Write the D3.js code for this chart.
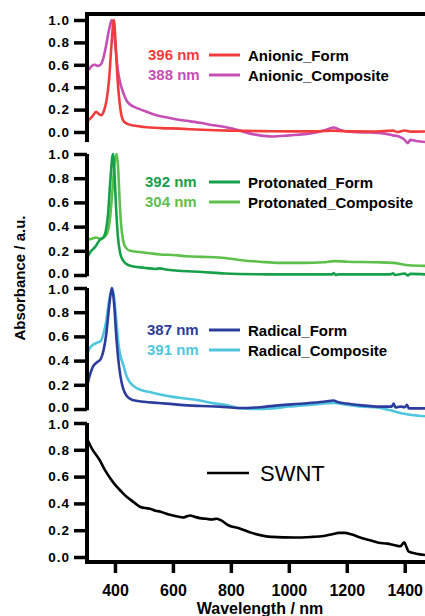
<!DOCTYPE html>
<html>
<head>
<meta charset="utf-8">
<script src="https://cdn.jsdelivr.net/npm/d3@7"></script>
<style>
  html, body { margin: 0; padding: 0; background: #fff; }
  svg { display: block; }
  text { font-family: "Liberation Sans", Arial, sans-serif; }
</style>
</head>
<body>
<svg id="chart" width="425" height="616"></svg>
<script>
// ---------- DATA ----------
const wavelengthTicks = [400, 600, 800, 1000, 1200, 1400];
const absTicks = [0, 0.2, 0.4, 0.6, 0.8, 1.0];

const anionicForm = [[300,0.09],[310,0.11],[322,0.14],[335,0.18],[345,0.16],[352,0.15],[362,0.19],[372,0.3],[380,0.48],[388,0.78],[396,1.0],[401,0.85],[406,0.6],[411,0.4],[417,0.24],[424,0.13],[432,0.09],[445,0.07],[470,0.055],[500,0.045],[560,0.035],[620,0.03],[700,0.02],[800,0.012],[900,0.008],[1000,0.006],[1100,0.006],[1150,0.012],[1200,0.006],[1300,0.005],[1360,0.012],[1375,0.0],[1400,0.014],[1420,0.003],[1470,0.005]];
const anionicComposite = [[300,0.54],[310,0.56],[320,0.59],[330,0.6],[340,0.59],[350,0.6],[360,0.66],[370,0.78],[380,0.92],[389,1.0],[395,0.93],[402,0.75],[410,0.55],[420,0.42],[430,0.34],[440,0.28],[455,0.24],[470,0.22],[490,0.2],[520,0.17],[550,0.145],[580,0.13],[620,0.11],[660,0.095],[700,0.08],[740,0.06],[780,0.045],[820,0.02],[860,-0.01],[900,-0.03],[940,-0.04],[1000,-0.03],[1080,-0.01],[1130,0.02],[1155,0.04],[1175,0.02],[1220,0.0],[1280,-0.005],[1320,-0.01],[1360,-0.03],[1380,-0.04],[1400,-0.07],[1410,-0.1],[1420,-0.07],[1440,-0.08],[1470,-0.09]];

const protonatedForm = [[300,0.12],[315,0.19],[331,0.23],[348,0.29],[360,0.31],[368,0.36],[376,0.5],[384,0.78],[393,1.0],[398,0.85],[404,0.55],[410,0.32],[418,0.18],[428,0.12],[440,0.09],[455,0.075],[500,0.06],[540,0.05],[555,0.055],[575,0.045],[620,0.035],[700,0.025],[780,0.012],[900,0.006],[1000,0.005],[1150,0.005],[1155,0.016],[1162,0.0],[1170,0.005],[1350,0.005],[1360,0.014],[1366,0.0],[1400,0.013],[1410,-0.004],[1420,0.009],[1470,0.005]];
const protonatedComposite = [[300,0.29],[320,0.3],[335,0.31],[348,0.3],[360,0.31],[372,0.34],[382,0.45],[392,0.72],[399,0.93],[406,1.0],[411,0.88],[416,0.62],[421,0.42],[428,0.29],[436,0.23],[452,0.2],[486,0.19],[520,0.18],[555,0.17],[600,0.165],[650,0.155],[700,0.15],[760,0.145],[845,0.12],[900,0.11],[966,0.1],[1050,0.1],[1120,0.105],[1155,0.115],[1200,0.11],[1300,0.105],[1360,0.1],[1400,0.085],[1414,0.08],[1470,0.075]];

const radicalForm = [[300,0.15],[312,0.27],[324,0.35],[340,0.39],[350,0.41],[360,0.48],[370,0.62],[380,0.85],[389,1.0],[397,0.87],[404,0.62],[411,0.42],[419,0.27],[428,0.17],[440,0.11],[460,0.075],[500,0.06],[550,0.05],[600,0.04],[650,0.03],[700,0.025],[760,0.02],[828,0.008],[900,0.015],[966,0.03],[1050,0.045],[1120,0.06],[1155,0.07],[1165,0.06],[1200,0.045],[1252,0.03],[1320,0.02],[1355,0.02],[1362,0.045],[1368,0.012],[1385,0.02],[1400,0.015],[1408,0.035],[1414,0.005],[1470,0.005]];
const radicalComposite = [[300,0.42],[312,0.5],[324,0.53],[340,0.55],[350,0.56],[360,0.62],[370,0.73],[380,0.9],[391,1.0],[398,0.9],[405,0.72],[413,0.52],[421,0.42],[428,0.37],[440,0.27],[452,0.22],[470,0.18],[486,0.16],[520,0.14],[555,0.12],[600,0.1],[650,0.085],[693,0.07],[734,0.05],[780,0.035],[828,0.006],[880,0.0],[941,0.005],[1000,0.02],[1080,0.035],[1155,0.05],[1200,0.035],[1252,0.02],[1310,0.01],[1366,-0.02],[1400,-0.04],[1424,-0.05],[1470,-0.06]];

const swnt = [[300,0.9],[320,0.81],[348,0.72],[365,0.65],[383,0.59],[400,0.54],[417,0.5],[435,0.46],[452,0.43],[470,0.4],[486,0.375],[505,0.365],[521,0.36],[540,0.345],[555,0.34],[575,0.325],[600,0.31],[620,0.3],[634,0.295],[650,0.305],[659,0.31],[675,0.3],[693,0.29],[715,0.285],[734,0.28],[750,0.285],[765,0.275],[793,0.235],[828,0.215],[872,0.18],[941,0.15],[1021,0.145],[1080,0.15],[1114,0.155],[1150,0.17],[1172,0.18],[1193,0.18],[1215,0.17],[1241,0.15],[1280,0.125],[1310,0.107],[1340,0.1],[1362,0.09],[1385,0.08],[1398,0.11],[1405,0.08],[1414,0.04],[1440,0.025],[1470,0.015]];

const seriesNames = ["Anionic_Form","Anionic_Composite","Protonated_Form","Protonated_Composite","Radical_Form","Radical_Composite","SWNT"];
const peakLabels = ["396 nm","388 nm","392 nm","304 nm","387 nm","391 nm"];
const seriesColors = ["#f23c3c","#c64fb5","#17a04a","#5dc04b","#2d3d9e","#4fc6de","#000000"];

// ---------- LAYOUT ----------
const svg = d3.select("#chart");
const axisX = 87;
const x = d3.scaleLinear().domain([300, 1470]).range([86, 425]);

const panels = [
  { y0: 132, y1: 20,  lo: -0.09, hi: 1.055, data: [anionicComposite, anionicForm], idx: [1, 0],
    legend: { nmX: 148, base: [60, 80] }, nudgeTop: 0, nudgeBottom: 0 },
  { y0: 275, y1: 154, lo: -0.01, hi: 1.0, data: [protonatedComposite, protonatedForm], idx: [3, 2],
    legend: { nmX: 145, base: [187, 207] }, nudgeTop: 0, nudgeBottom: -1.5 },
  { y0: 409, y1: 288, lo: -0.01, hi: 1.0, data: [radicalComposite, radicalForm], idx: [5, 4],
    legend: { nmX: 147, base: [335, 355] }, nudgeTop: 1.5, nudgeBottom: -1.5 },
  { y0: 557, y1: 423, lo: -0.037, hi: 1.0, data: [swnt], idx: [6], legend: null,
    nudgeTop: 1.5, nudgeBottom: 0 }
];

svg.append("defs").append("clipPath").attr("id", "clipX")
  .append("rect").attr("x", 88).attr("y", 0).attr("width", 340).attr("height", 616);

panels.forEach(p => {
  const y = d3.scaleLinear().domain([0, 1]).range([p.y0, p.y1]);
  const line = d3.line().x(d => x(d[0])).y(d => y(d[1])).curve(d3.curveMonotoneX);

  // curves
  const g = svg.append("g").attr("clip-path", "url(#clipX)");
  p.data.forEach((arr, k) => {
    g.append("path").datum(arr)
      .attr("d", line)
      .attr("fill", "none")
      .attr("stroke", seriesColors[p.idx[k]])
      .attr("stroke-width", 2.6)
      .attr("stroke-linejoin", "round");
  });

  // y axis
  const ax = svg.append("g").attr("transform", `translate(${axisX},0)`)
    .call(d3.axisLeft(y).tickValues(absTicks).tickFormat(d3.format(".1f"))
      .tickSize(13).tickSizeOuter(0).tickPadding(4));
  ax.select(".domain").remove();
  ax.selectAll(".tick line").attr("stroke", "#000").attr("stroke-width", 3.5);
  ax.selectAll(".tick text").attr("fill", "#000")
    .style("font-size", "13.5px").style("font-weight", "bold")
    .style("letter-spacing", "1px")
    .style("font-family", "'Liberation Sans', Arial, sans-serif")
    .attr("transform", d => d === 1 ? `translate(0,${p.nudgeTop})` : (d === 0 ? `translate(0,${p.nudgeBottom})` : null));
  svg.append("line")
    .attr("x1", axisX).attr("x2", axisX)
    .attr("y1", y(p.hi)).attr("y2", y(p.lo))
    .attr("stroke", "#000").attr("stroke-width", 4);

  // legends
  if (p.legend) {
    p.idx.slice().reverse().forEach((si, k) => {
      const base = p.legend.base[k];
      svg.append("text").attr("x", p.legend.nmX).attr("y", base)
        .attr("fill", seriesColors[si])
        .style("font-size", "15px").style("font-weight", "bold")
        .text(peakLabels[si]);
      svg.append("line").attr("x1", 209).attr("x2", 240)
        .attr("y1", base - 5).attr("y2", base - 5)
        .attr("stroke", seriesColors[si]).attr("stroke-width", 3);
      svg.append("text").attr("x", 248).attr("y", base + 1)
        .attr("fill", "#000")
        .style("font-size", "15px").style("font-weight", "bold")
        .text(seriesNames[si]);
    });
  }
});

// SWNT legend
svg.append("line").attr("x1", 207).attr("x2", 249).attr("y1", 473).attr("y2", 473)
  .attr("stroke", seriesColors[6]).attr("stroke-width", 2.6);
svg.append("text").attr("x", 260).attr("y", 481).attr("fill", "#000")
  .style("font-size", "22px").text(seriesNames[6]);

// top border
svg.append("line").attr("x1", 85).attr("x2", 425).attr("y1", 14).attr("y2", 14)
  .attr("stroke", "#000").attr("stroke-width", 4);

// x axis
const xAxisY = 562;
const xa = svg.append("g").attr("transform", `translate(0,${xAxisY})`)
  .call(d3.axisBottom(x).tickValues(wavelengthTicks).tickFormat(d3.format("d"))
    .tickSize(11).tickSizeOuter(0).tickPadding(12));
xa.select(".domain").remove();
xa.selectAll(".tick line").attr("stroke", "#000").attr("stroke-width", 3.5);
xa.selectAll(".tick text").attr("fill", "#000")
  .style("font-size", "16px").style("font-weight", "bold")
  .style("font-family", "'Liberation Sans', Arial, sans-serif");
svg.append("line").attr("x1", 85).attr("x2", 425).attr("y1", xAxisY).attr("y2", xAxisY)
  .attr("stroke", "#000").attr("stroke-width", 4);

// axis titles
svg.append("text").attr("x", 260).attr("y", 614).attr("text-anchor", "middle")
  .style("font-size", "16px").style("font-weight", "bold").text("Wavelength / nm");
svg.append("text").attr("transform", "translate(25,278) rotate(-90)")
  .attr("text-anchor", "middle")
  .style("font-size", "15px").style("font-weight", "bold").text("Absorbance / a.u.");
</script>
</body>
</html>
